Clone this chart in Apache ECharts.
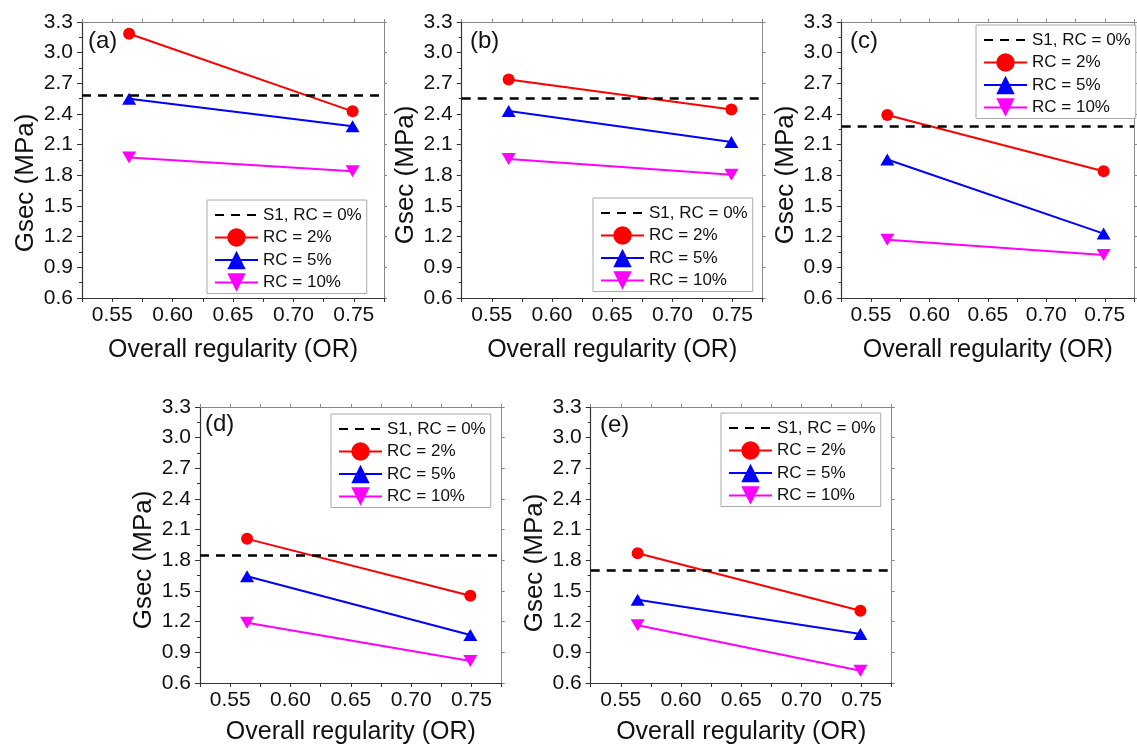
<!DOCTYPE html>
<html><head><meta charset="utf-8">
<script src="https://cdn.jsdelivr.net/npm/echarts@6/dist/echarts.min.js"></script>
<style>html,body{margin:0;padding:0;background:#fff}#c{width:1137px;height:752px}</style>
</head><body><div id="c"></div>
<script>
// ---- data ----
const panelLabels = ['(a)', '(b)', '(c)', '(d)', '(e)'];
const seriesNames = ['S1, RC = 0%', 'RC = 2%', 'RC = 5%', 'RC = 10%'];
const orValues = [0.564, 0.749];
const s1Values = [2.58, 2.547, 2.28, 1.854, 1.697];
const rc2Values = [[3.185, 2.426], [2.737, 2.443], [2.39, 1.84], [2.01, 1.454], [1.87, 1.307]];
const rc5Values = [[2.55, 2.28], [2.43, 2.125], [1.955, 1.23], [1.645, 1.07], [1.415, 1.08]];
const rc10Values = [[1.975, 1.84], [1.96, 1.805], [1.17, 1.02], [1.19, 0.815], [1.165, 0.72]];
const xTickValues = [0.55, 0.60, 0.65, 0.70, 0.75];
const yTickValues = [0.6, 0.9, 1.2, 1.5, 1.8, 2.1, 2.4, 2.7, 3.0, 3.3];
const xAxisTitle = 'Overall regularity (OR)';
const yAxisTitle = 'Gsec (MPa)';

// ---- layout ----
const FONT = '"Liberation Sans", Arial, sans-serif';
const grids = [
  {left: 82, top: 22, width: 302, height: 276},
  {left: 461.7, top: 22, width: 301, height: 276},
  {left: 841.7, top: 22, width: 301, height: 276},
  {left: 200, top: 407, width: 301.7, height: 276},
  {left: 590.7, top: 407, width: 301, height: 276}
];
const legendPos = [[207, 200], [593, 198], [976, 25], [331, 414], [721, 413]];
const yNameShift = [23, 15, 15, 15, 18];
const xNameGap = [40, 40, 40, 37, 37];
const labelPos = [[88, 29], [470, 29], [850, 29], [205, 412], [600, 413]];

const colors = {rc2: '#ff0000', rc5: '#0000ff', rc10: '#ff00ff'};
const dash = [9, 7];

const xAxes = [], yAxes = [], series = [], legends = [], graphics = [];
const isXTick = v => xTickValues.some(t => Math.abs(t - v) < 1e-6);

grids.forEach((g, i) => {
  xAxes.push({
    type: 'value', gridIndex: i, position: 'bottom', min: 0.525, max: 0.775, interval: 0.025,
    axisLine: {onZero: false, lineStyle: {color: '#333', width: 1.2}},
    axisTick: {show: true, length: 4, lineStyle: {color: '#333'}},
    axisLabel: {formatter: v => isXTick(v) ? v.toFixed(2) : '', fontSize: 21, margin: 7, color: '#111', fontFamily: FONT},
    splitLine: {show: false},
    name: xAxisTitle, nameLocation: 'middle', nameGap: xNameGap[i],
    nameTextStyle: {fontSize: 25, color: '#111', fontFamily: FONT}
  });
  yAxes.push({
    type: 'value', gridIndex: i, position: 'left', min: yTickValues[0], max: yTickValues[yTickValues.length - 1], interval: 0.3,
    axisLine: {onZero: false, lineStyle: {color: '#333', width: 1.2}},
    axisTick: {show: true, length: 5, lineStyle: {color: '#333'}},
    minorTick: {show: true, splitNumber: 2, length: 3, lineStyle: {color: '#333'}},
    axisLabel: {formatter: v => v.toFixed(1), fontSize: 21, margin: 9, color: '#111', fontFamily: FONT},
    splitLine: {show: false},
    name: yAxisTitle, nameLocation: 'middle', nameGap: 43,
    nameTextStyle: {fontSize: 26, color: '#111', fontFamily: FONT, padding: [0, yNameShift[i] * 2, 0, 0]}
  });
});
grids.forEach((g, i) => {
  xAxes.push({
    type: 'value', gridIndex: i, position: 'top', min: 0.525, max: 0.775, interval: 0.025,
    axisLine: {onZero: false, lineStyle: {color: '#888', width: 1}},
    axisTick: {show: true, length: 3, lineStyle: {color: '#888'}},
    axisLabel: {show: false}, splitLine: {show: false}
  });
  yAxes.push({
    type: 'value', gridIndex: i, position: 'right', min: yTickValues[0], max: yTickValues[yTickValues.length - 1], interval: 0.3,
    axisLine: {onZero: false, lineStyle: {color: '#888', width: 1}},
    axisTick: {show: true, length: 3, lineStyle: {color: '#888'}},
    axisLabel: {show: false}, splitLine: {show: false}
  });
});

grids.forEach((g, i) => {
  series.push({
    name: seriesNames[0], type: 'line', xAxisIndex: i, yAxisIndex: i, data: [], symbol: 'none',
    lineStyle: {color: '#000', type: dash, width: 2.5}, itemStyle: {color: '#000', opacity: 0},
    markLine: {silent: true, symbol: ['none', 'none'], label: {show: false},
      lineStyle: {color: '#000', type: dash, width: 2.5, opacity: 1}, data: [{yAxis: s1Values[i]}]}
  });
  const mk = (name, vals, color, symbol, size, rotate) => ({
    name, type: 'line', xAxisIndex: i, yAxisIndex: i,
    data: orValues.map((x, k) => [x, vals[i][k]]),
    symbol, symbolSize: size, symbolRotate: rotate,
    lineStyle: {color, width: 2}, itemStyle: {color}, z: 3
  });
  series.push(mk(seriesNames[1], rc2Values, colors.rc2, 'circle', 12, 0));
  series.push(mk(seriesNames[2], rc5Values, colors.rc5, 'triangle', [14, 12], 0));
  series.push(mk(seriesNames[3], rc10Values, colors.rc10, 'triangle', [14, 12], 180));

  legends.push({
    orient: 'vertical', left: legendPos[i][0], top: legendPos[i][1],
    data: [{name: seriesNames[0], itemStyle: {opacity: 0}}, seriesNames[1], seriesNames[2], seriesNames[3]],
    itemWidth: 43, itemHeight: 23, itemGap: 0.5,
    padding: [4, 5, 0, 7], borderColor: '#aaa', borderWidth: 1, backgroundColor: '#fff',
    textStyle: {fontFamily: FONT, fontSize: 17, color: '#111', lineHeight: 22},
    selectedMode: false
  });
  graphics.push({
    type: 'text', left: labelPos[i][0], top: labelPos[i][1],
    style: {text: panelLabels[i], font: '24px ' + FONT, fill: '#111'}
  });
});

const chart = echarts.init(document.getElementById('c'), null, {renderer: 'canvas'});
chart.setOption({
  animation: false,
  backgroundColor: '#fff',
  grid: grids.map(g => Object.assign({containLabel: false}, g)),
  xAxis: xAxes, yAxis: yAxes, series, legend: legends, graphic: graphics
});
</script></body></html>
